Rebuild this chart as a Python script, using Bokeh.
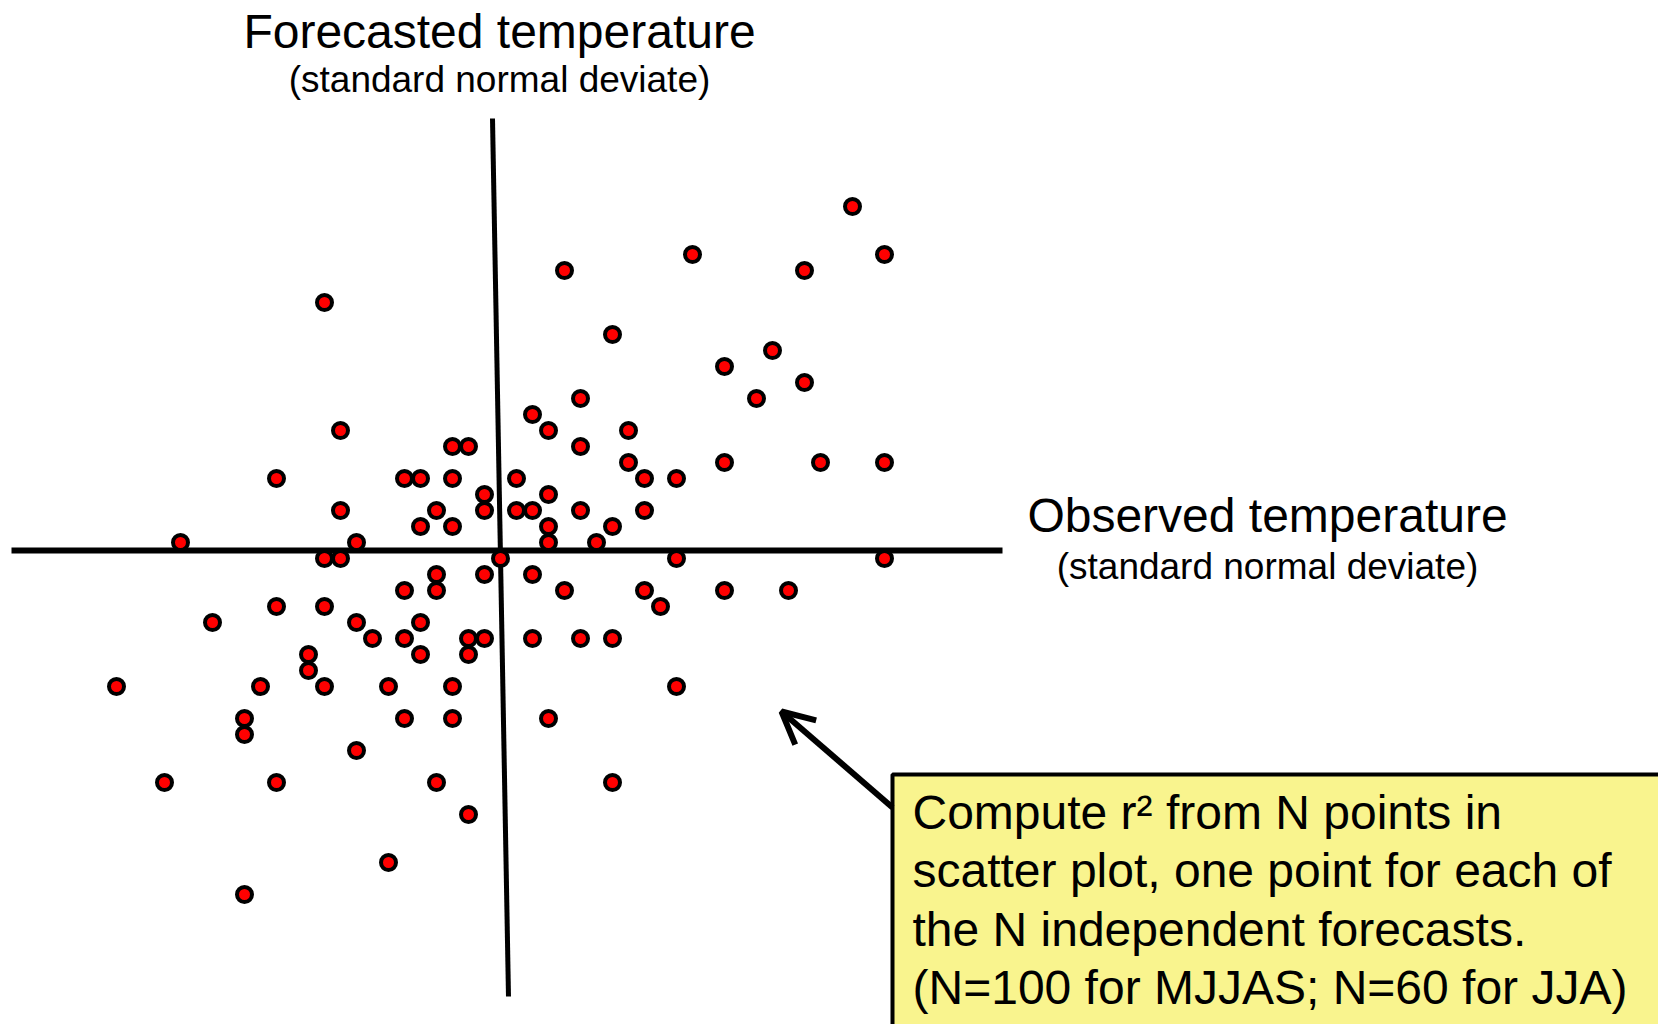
from bokeh.plotting import figure
from bokeh.models import Range1d, Label, Arrow, OpenHead
from bokeh.embed import file_html
from bokeh.resources import INLINE

# Standard normal deviates (observed, forecasted)
observed = [2.2, 1.2, 2.4, 0.4, 1.9, -1.1, 0.7, 1.7, 1.4, 1.9, 0.5, 1.6, 0.2,
            -1.0, 0.3, 0.8, -0.3, -0.2, 0.5, 0.8, 1.4, 2.0, 2.4,
            -1.4, -0.6, -0.5, -0.3, 0.1, 0.9, 1.1, -0.1, 0.3,
            -1.0, -0.4, -0.1, 0.1, 0.2, 0.5, 0.9, -0.5, -0.3, 0.3, 0.7,
            -2.0, -0.9, 0.3, 0.6, -1.1, -1.0, 0.0, 1.1, 2.4, -0.4, -0.1, 0.2,
            -0.6, -0.4, 0.4, 0.9, 1.4, 1.8, -1.4, -1.1, 1.0, -1.8, -0.9, -0.5,
            -0.8, -0.6, -0.2, -0.1, 0.2, 0.5, 0.7, -1.2, -0.5, -0.2, -1.2,
            -2.4, -1.5, -1.1, -0.7, -0.3, 1.1, -1.6, -0.6, -0.3, 0.3, -1.6,
            -0.9, -2.1, -1.4, -0.4, 0.7, -0.2, -0.7, -1.6]
forecast = [2.2, 1.9, 1.9, 1.8, 1.8, 1.6, 1.4, 1.3, 1.2, 1.1, 1.0, 1.0, 0.9,
            0.8, 0.8, 0.8, 0.7, 0.7, 0.7, 0.6, 0.6, 0.6, 0.6,
            0.5, 0.5, 0.5, 0.5, 0.5, 0.5, 0.5, 0.4, 0.4,
            0.3, 0.3, 0.3, 0.3, 0.3, 0.3, 0.3, 0.2, 0.2, 0.2, 0.2,
            0.1, 0.1, 0.1, 0.1, 0.0, 0.0, 0.0, 0.0, 0.0, -0.1, -0.1, -0.1,
            -0.2, -0.2, -0.2, -0.2, -0.2, -0.2, -0.3, -0.3, -0.3, -0.4, -0.4, -0.4,
            -0.5, -0.5, -0.5, -0.5, -0.5, -0.5, -0.5, -0.6, -0.6, -0.6, -0.7,
            -0.8, -0.8, -0.8, -0.8, -0.8, -0.8, -1.0, -1.0, -1.0, -1.0, -1.1,
            -1.2, -1.4, -1.4, -1.4, -1.4, -1.6, -1.9, -2.1]
assert len(observed) == len(forecast)

title_y = "Forecasted temperature"
title_x = "Observed temperature"
subtitle = "(standard normal deviate)"
note_lines = ["Compute r\u00b2 from N points in",
              "scatter plot, one point for each of",
              "the N independent forecasts.",
              "(N=100 for MJJAS; N=60 for JJA)"]

W, H = 1658, 1024
PPU = 160.0  # pixels per SD unit
OX, OY = 500, 558  # pixel of data origin


def X(px):
    return (px - OX) / PPU


def Y(py):
    return (OY - py) / PPU


p = figure(width=W, height=H, output_backend="svg", toolbar_location=None,
           x_range=Range1d(X(0), X(W)), y_range=Range1d(Y(H), Y(0)),
           min_border=0)
p.axis.visible = False
p.grid.visible = False
p.outline_line_color = None
p.background_fill_color = "white"
p.border_fill_color = "white"

# Axes drawn as lines through the scatter
p.segment(x0=[X(11)], y0=[Y(550)], x1=[X(1002)], y1=[Y(550)],
          line_color="black", line_width=6)
p.segment(x0=[X(492)], y0=[Y(118)], x1=[X(508)], y1=[Y(996)],
          line_color="black", line_width=5)

p.scatter(observed, forecast, size=15, fill_color="#FF0000",
          line_color="black", line_width=4)

FONT = "Liberation Sans"


def label(x, y, text, size, align="center"):
    p.add_layout(Label(x=x, y=y, text=text, text_font=FONT,
                       text_font_size=size, text_align=align,
                       text_baseline="alphabetic", text_color="black"))


label(X(499), Y(48 - 17), title_y, "48px")
label(X(499), Y(91 - 12), subtitle, "37px")
label(X(1267), Y(532 - 17), title_x, "48px")
label(X(1267), Y(578 - 12), subtitle, "37px")

# Note box and arrow
p.quad(left=[X(892)], right=[X(1720)], top=[Y(774)], bottom=[Y(1100)],
       fill_color="#F9F48E", line_color="black", line_width=4)
p.add_layout(Arrow(end=OpenHead(size=32, line_width=6, line_color="black"),
                   x_start=X(892), y_start=Y(807), x_end=X(781), y_end=Y(711),
                   line_width=6, line_color="black"))

for k, line in enumerate(note_lines):
    label(X(912), Y(828 + 58.3 * k - 16), line, "48px", align="left")

open("out.html", "w").write(file_html(p, INLINE))
